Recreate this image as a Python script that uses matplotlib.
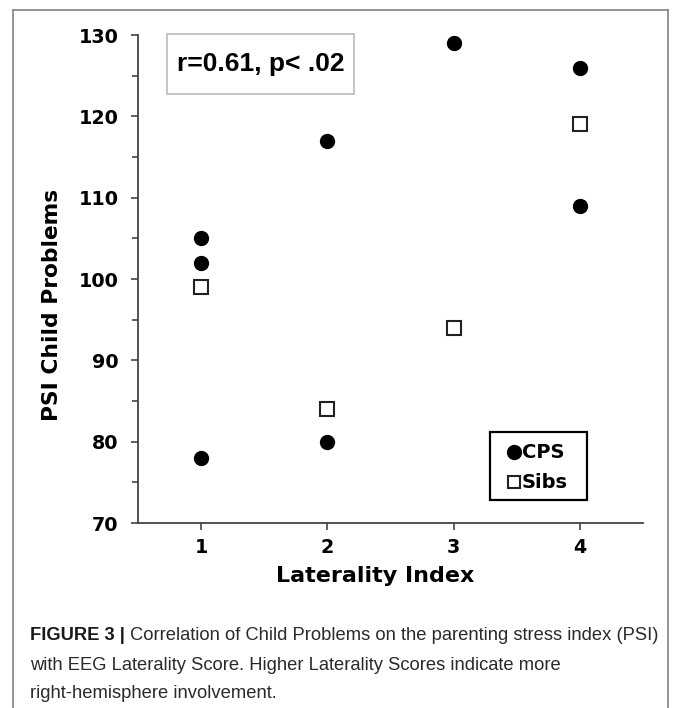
import matplotlib
matplotlib.use('Agg')
import matplotlib.pyplot as plt
from matplotlib.lines import Line2D
from matplotlib.patches import Rectangle
from matplotlib.ticker import AutoMinorLocator

# ---- data ----
cps_x = [1, 1, 1, 2, 2, 3, 4, 4]
cps_y = [105, 102, 78, 117, 80, 129, 126, 109]
sibs_x = [1, 2, 3, 4]
sibs_y = [99, 84, 94, 119]
x_ticks = [1, 2, 3, 4]
y_ticks = [70, 80, 90, 100, 110, 120, 130]
annotation = "r=0.61, p< .02"
xlabel = "Laterality Index"
ylabel = "PSI Child Problems"
legend_labels = ["CPS", "Sibs"]
caption_bold = "FIGURE 3 |"
caption_lines = [" Correlation of Child Problems on the parenting stress index (PSI)",
                 "with EEG Laterality Score. Higher Laterality Scores indicate more",
                 "right-hemisphere involvement."]

W, H = 674, 708
fig = plt.figure(figsize=(W / 100, H / 100), dpi=100)


def fx(px):
    return px / W


def fy(py):
    return 1 - py / H


ax = fig.add_axes([fx(138), fy(523), fx(643) - fx(138), fy(35) - fy(523)])
ax.set_xlim(0.5, 4.5)
ax.set_ylim(70, 130)

ax.plot(cps_x, cps_y, 'o', ms=10, color='black', clip_on=False, zorder=3)
ax.plot(sibs_x, sibs_y, 's', ms=10, mfc='white', mec='#222222', mew=1.5,
        clip_on=False, zorder=3)

for s in ['top', 'right']:
    ax.spines[s].set_visible(False)
for s in ['left', 'bottom']:
    ax.spines[s].set_color('#444444')
    ax.spines[s].set_linewidth(1.3)

ax.set_xticks(x_ticks)
ax.set_yticks(y_ticks)
ax.yaxis.set_minor_locator(AutoMinorLocator(2))
ax.tick_params(axis='both', which='major', direction='out', length=5,
               width=1.2, color='#444444')
ax.tick_params(axis='y', which='minor', direction='out', length=4,
               width=1.2, color='#444444')
ax.tick_params(axis='y', which='major', pad=9)
ax.tick_params(axis='x', which='major', pad=6)
for lab in ax.get_xticklabels() + ax.get_yticklabels():
    lab.set_fontfamily('DejaVu Sans')
    lab.set_fontweight('bold')
    lab.set_fontsize(13.8)

fig.text(fx(375), fy(576), xlabel, ha='center', va='center',
         fontsize=16, fontweight='bold', family='DejaVu Sans')
fig.text(fx(52), fy(305), ylabel, ha='center', va='center', rotation=90,
         fontsize=15.7, fontweight='bold', family='DejaVu Sans')

# annotation box
fig.add_artist(Rectangle((fx(167), fy(94)), fx(354) - fx(167), fy(34) - fy(94),
                         transform=fig.transFigure, fill=False,
                         edgecolor='#bbbbbb', lw=1.2))
fig.text(fx(260.5), fy(64), annotation, ha='center', va='center',
         fontsize=19, fontweight='bold', family='Liberation Sans')

# legend (drawn as box + keys)
fig.add_artist(Rectangle((fx(490), fy(500)), fx(587) - fx(490), fy(432) - fy(500),
                         transform=fig.transFigure, fill=False,
                         edgecolor='black', lw=1.6))
fig.add_artist(Line2D([fx(513.5)], [fy(452)], transform=fig.transFigure,
                      marker='o', ls='none', color='black', ms=10))
fig.add_artist(Line2D([fx(513.5)], [fy(482)], transform=fig.transFigure,
                      marker='s', ls='none', mfc='white', mec='#222222',
                      mew=1.5, ms=9))
fig.text(fx(522), fy(452), legend_labels[0], ha='left', va='center',
         fontsize=14, fontweight='bold', family='DejaVu Sans')
fig.text(fx(522), fy(482), legend_labels[1], ha='left', va='center',
         fontsize=14, fontweight='bold', family='DejaVu Sans')

# figure frame
fc = '#8c8c8c'
fig.add_artist(Line2D([fx(13), fx(668)], [fy(10), fy(10)], transform=fig.transFigure,
                      color=fc, lw=1.3))
fig.add_artist(Line2D([fx(13), fx(13)], [fy(10), 0], transform=fig.transFigure,
                      color=fc, lw=1.3))
fig.add_artist(Line2D([fx(668), fx(668)], [fy(10), 0], transform=fig.transFigure,
                      color=fc, lw=1.3))

# caption
cap_size = 13.2
renderer = fig.canvas.get_renderer()
tb = fig.text(fx(30), fy(636), caption_bold, ha='left', va='center',
              fontsize=cap_size, fontweight='bold', family='Liberation Sans',
              color='#1a1a1a')
ext = tb.get_window_extent(renderer=renderer)
fig.text(ext.x1 / W, fy(636), caption_lines[0], ha='left', va='center',
         fontsize=cap_size, family='Liberation Sans', color='#2a2a2a')
fig.text(fx(30), fy(665), caption_lines[1], ha='left', va='center',
         fontsize=cap_size, family='Liberation Sans', color='#2a2a2a')
fig.text(fx(30), fy(694), caption_lines[2], ha='left', va='center',
         fontsize=cap_size, family='Liberation Sans', color='#2a2a2a')

fig.savefig('out.png', dpi=100)
